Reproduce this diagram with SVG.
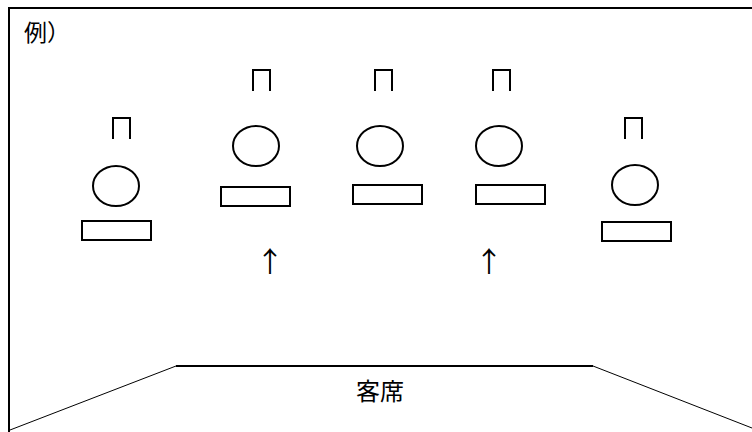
<svg xmlns="http://www.w3.org/2000/svg" width="752" height="432" viewBox="0 0 752 432">
<style>
.s{fill:none;stroke:#000;stroke-width:2}
.t{font-family:"Noto Sans CJK JP","Noto Sans",sans-serif;fill:#000}
.a{font-family:"Noto Sans CJK JP","Noto Sans",sans-serif;fill:#000;font-size:28px;text-anchor:middle}
</style>
<rect width="752" height="432" fill="#fff"/>
<g id="frame">
<path class="s" d="M9,432 V8 H752"/>
<path d="M176,366 L10,430 M593,366 L752,428" fill="none" stroke="#000" stroke-width="1"/>
<path d="M176,366 H593" fill="none" stroke="#000" stroke-width="2"/>
<text class="t" x="24" y="41" font-size="23">例）</text>
<text class="t" x="380" y="400" font-size="24" text-anchor="middle">客席</text>
</g>
<g id="p1">
<path class="s" d="M113,139 V118 H130 V139"/>
<ellipse class="s" cx="116" cy="186" rx="23" ry="20"/>
<rect class="s" x="82" y="221" width="69" height="19"/>
</g>
<g id="p2">
<path class="s" d="M253,91 V70 H270 V91"/>
<ellipse class="s" cx="256" cy="146" rx="23" ry="20"/>
<rect class="s" x="221" y="187" width="69" height="19"/>
</g>
<g id="p3">
<path class="s" d="M375,91 V70 H392 V91"/>
<ellipse class="s" cx="380" cy="146" rx="23" ry="20"/>
<rect class="s" x="353" y="185" width="69" height="19"/>
</g>
<g id="p4">
<path class="s" d="M493,91 V70 H510 V91"/>
<ellipse class="s" cx="499" cy="146" rx="23" ry="20"/>
<rect class="s" x="476" y="185" width="69" height="19"/>
</g>
<g id="p5">
<path class="s" d="M625,139 V118 H642 V139"/>
<ellipse class="s" cx="635" cy="185" rx="23" ry="20"/>
<rect class="s" x="602" y="222" width="69" height="19"/>
</g>
<g id="connectors">
<text class="a" x="270" y="272">↑</text>
<text class="a" x="489" y="272">↑</text>
</g>
</svg>
